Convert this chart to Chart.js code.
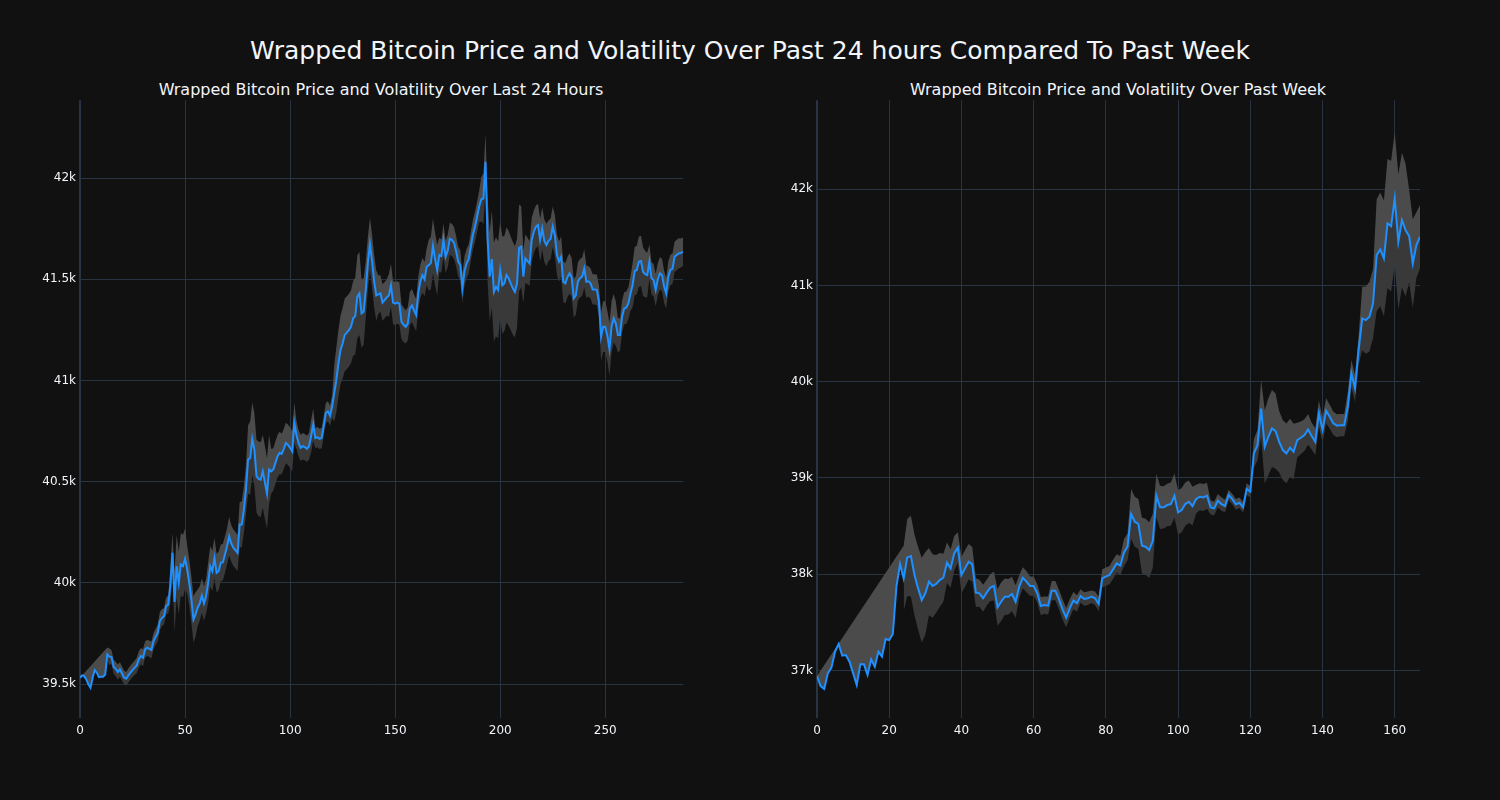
<!DOCTYPE html>
<html><head><meta charset="utf-8">
<script src="https://cdn.jsdelivr.net/npm/chart.js@4.4.0/dist/chart.umd.min.js"></script>
<style>
html,body{margin:0;padding:0;background:#111111;}
body{width:1500px;height:800px;position:relative;overflow:hidden;font-family:"DejaVu Sans",sans-serif;color:#f2f5fa;}
.t{position:absolute;white-space:nowrap;transform:translate(-50%,-50%);line-height:1;}
canvas{position:absolute;}
</style></head><body>
<div class="t" style="left:750px;top:50px;font-size:25px;">Wrapped Bitcoin Price and Volatility Over Past 24 hours Compared To Past Week</div>
<div class="t" style="left:381px;top:90px;font-size:16px;">Wrapped Bitcoin Price and Volatility Over Last 24 Hours</div>
<div class="t" style="left:1118px;top:90px;font-size:16px;">Wrapped Bitcoin Price and Volatility Over Past Week</div>
<canvas id="c1" width="680" height="666" style="left:20px;top:89px;"></canvas>
<canvas id="c2" width="680" height="666" style="left:757px;top:89px;"></canvas>
<script>
// ---- Last 24 hours (5-minute steps) ----
const dayPrice = [
39531,39542,39539,39523,39498,39481,39531,39569,39556,39534,
39536,39536,39547,39646,39635,39633,39584,39575,39559,39572,
39552,39531,39526,39542,39556,39569,39580,39592,39621,39638,
39630,39671,39679,39674,39668,39712,39733,39753,39811,39827,
39835,39885,39893,39984,40148,39905,40082,40000,40091,40082,
40119,40066,40000,39918,39819,39844,39877,39898,39937,39898,
39934,40000,40082,40058,40123,40049,40058,40099,40102,40140,
40181,40230,40194,40173,40161,40148,40288,40288,40362,40461,
40609,40617,40711,40658,40527,40514,40510,40551,40497,40441,
40560,40551,40560,40593,40625,40642,40637,40662,40691,40682,
40667,40650,40790,40732,40691,40667,40675,40671,40662,40675,
40724,40782,40715,40720,40711,40715,40774,40839,40847,40826,
40871,40937,41002,41085,41151,41183,41225,41236,41249,41266,
41307,41318,41414,41430,41332,41340,41447,41579,41674,41590,
41490,41420,41425,41430,41385,41397,41410,41420,41470,41385,
41380,41385,41380,41290,41275,41265,41280,41356,41370,41345,
41323,41430,41490,41520,41500,41562,41570,41580,41664,41600,
41545,41620,41615,41694,41611,41640,41700,41695,41680,41640,
41587,41570,41455,41540,41578,41600,41661,41720,41760,41809,
41860,41895,41899,42081,41700,41513,41600,41438,41463,41447,
41545,41470,41480,41521,41505,41480,41455,41438,41480,41655,
41661,41513,41603,41590,41578,41694,41735,41760,41768,41694,
41751,41690,41669,41690,41700,41760,41718,41620,41588,41611,
41488,41480,41510,41529,41510,41406,41420,41490,41505,41513,
41554,41488,41490,41480,41450,41450,41447,41389,41216,41266,
41266,41220,41154,41266,41307,41282,41225,41225,41315,41356,
41360,41381,41430,41470,41540,41546,41587,41590,41537,41525,
41521,41587,41505,41496,41447,41500,41529,41521,41464,41430,
41513,41546,41552,41611,41620,41628,41630,41636
];
// volatility half-width around the price (null = not yet defined)
const daySpread = [
0,
null,null,null,null,null,null,null,null,null,null,null,null,
35,40,35,35,35,38,35,35,
35,33,35,35,35,35,38,
40,40,42,40,40,40,42,40,40,42,45,42,40,42,45,
90,100,150,155,155,155,155,150,
120,115,115,115,110,
90,85,85,85,85,
100,100,100,100,95,95,
90,90,90,90,95,90,90,90,90,
110,115,115,120,
170,180,180,180,180,185,185,180,180,175,170,
110,105,105,105,105,100,100,100,100,
100,100,100,
70,65,65,65,65,65,65,
80,80,
50,50,50,50,50,50,50,50,55,
140,160,165,170,175,
180,180,180,180,185,190,
205,205,
170,165,
140,130,130,
130,130,125,
95,90,90,90,90,
105,107,107,107,105,105,
85,85,82,82,82,82,80,80,82,82,85,85,90,
125,130,135,130,125,
85,82,82,80,80,80,80,78,
75,74,74,74,74,72,72,72,74,74,76,78,
110,125,140,
210,220,
240,245,245,240,240,240,235,235,235,230,230,225,220,215,200,
130,120,115,110,110,
105,105,105,105,105,105,105,100,100,100,100,
100,100,100,100,100,100,100,95,95,95,95,95,95,95,
80,75,75,75,75,75,80,
120,125,125,125,130,125,120,110,
85,80,80,80,80,80,85,
110,120,120,125,125,120,115,110,
85,80,80,80,80,80,80,80,
75,75,75,75,75,75,75,72,70
];
const dayYTicks = [39500, 40000, 40500, 41000, 41500, 42000];
const dayXTicks = [0, 50, 100, 150, 200, 250];

// ---- Past week (hourly steps) ----
const weekPrice = [
36943,36839,36808,36971,37030,37196,37276,37154,37161,37092,
36971,36850,37064,37064,36954,37116,37040,37196,37144,37328,
37317,37379,37871,38106,37957,38175,38189,37992,37853,37732,
37802,37923,37878,37899,37940,37964,38120,38061,38217,38276,
37992,38061,38130,38103,37809,37802,37750,37809,37861,37878,
37656,37715,37767,37767,37795,37715,37871,37964,37923,37878,
37878,37802,37670,37680,37674,37829,37829,37739,37636,37549,
37646,37726,37698,37774,37743,37750,37767,37750,37691,37957,
37975,37992,38051,38113,38089,38224,38286,38625,38546,38522,
38297,38286,38251,38348,38816,38695,38695,38719,38729,38816,
38643,38667,38729,38753,38708,38781,38805,38798,38816,38695,
38684,38764,38729,38708,38823,38781,38726,38743,38695,38885,
38857,39255,39342,39722,39324,39428,39515,39487,39376,39290,
39255,39314,39273,39394,39418,39446,39504,39435,39376,39671,
39498,39698,39636,39567,39543,39549,39549,39740,40086,39930,
40328,40657,40640,40675,40813,41315,41374,41281,41644,41616,
41903,41453,41678,41574,41512,41228,41419,41505
];
const weekSpread = [
0,
null,null,null,null,null,null,null,null,null,null,null,null,
null,null,null,null,null,null,null,null,null,null,null,
340,400,420,420,430,440,430,350,330,300,
280,250,210,200,180,160,190,190,185,180,
150,140,140,135,140,150,190,200,190,185,
180,170,120,110,110,100,100,95,95,90,
95,100,100,100,105,100,95,90,85,70,
70,70,65,70,75,95,95,95,100,95,
100,140,140,260,260,260,290,290,290,280,
225,225,220,220,225,230,230,230,225,220,
200,150,140,140,135,75,70,70,70,65,
55,55,55,55,55,60,60,150,160,300,
380,400,400,390,320,310,310,300,290,180,
170,165,160,140,140,135,130,130,125,120,
120,115,115,150,140,140,150,330,350,360,
360,580,590,600,670,680,690,700,700,690,
480,460,340,330
];
const weekYTicks = [37000, 38000, 39000, 40000, 41000, 42000];
const weekXTicks = [0, 20, 40, 60, 80, 100, 120, 140, 160];

const GRID = '#283442';
const TXT = '#f2f5fa';
const FONT = '"DejaVu Sans", sans-serif';

function kLabel(v) { return (v / 1000) + 'k'; }

function makeChart(id, prices, spreads, xTicks, yTicks, yMin, yMax) {
  const pts = prices.map((p, i) => ({x: i, y: p}));
  const upper = prices.map((p, i) => ({x: i, y: spreads[i] === null ? null : p + spreads[i]}));
  const lower = prices.map((p, i) => ({x: i, y: spreads[i] === null ? null : p - spreads[i]}));
  return new Chart(document.getElementById(id), {
    type: 'line',
    data: {datasets: [
      {data: pts, borderColor: '#1e90ff', borderWidth: 2, pointRadius: 0, fill: false, tension: 0},
      {data: upper, borderWidth: 0, borderColor: 'rgba(0,0,0,0)', pointRadius: 0, spanGaps: true,
       fill: {target: 0}, backgroundColor: '#4b4b4b'},
      {data: lower, borderWidth: 0, borderColor: 'rgba(0,0,0,0)', pointRadius: 0, spanGaps: false,
       fill: {target: 0}, backgroundColor: '#393939'}
    ]},
    options: {
      responsive: false, animation: false, devicePixelRatio: 1,
      layout: {padding: {top: 5, right: 17, left: 0, bottom: 0}},
      plugins: {legend: {display: false}, tooltip: {enabled: false}, title: {display: false}},
      scales: {
        x: {
          type: 'linear', min: 0, max: prices.length - 1,
          border: {display: false},
          grid: {color: GRID, drawTicks: false,
                 lineWidth: c => (c.tick && c.tick.value === 0) ? 2 : 1},
          ticks: {color: TXT, padding: 6, font: {family: FONT, size: 12}, maxRotation: 0,
                  autoSkip: false, callback: v => String(v)},
          afterBuildTicks: s => { s.ticks = xTicks.map(v => ({value: v})); },
          afterFit: s => { s.height = 37; }
        },
        y: {
          type: 'linear', min: yMin, max: yMax,
          border: {display: false},
          grid: {color: GRID, drawTicks: false},
          ticks: {color: TXT, padding: 4, font: {family: FONT, size: 12},
                  autoSkip: false, callback: v => kLabel(v)},
          afterBuildTicks: s => { s.ticks = yTicks.map(v => ({value: v})); },
          afterFit: s => { s.width = 60; }
        }
      }
    }
  });
}

makeChart('c1', dayPrice, daySpread, dayXTicks, dayYTicks, 39332, 42385);
makeChart('c2', weekPrice, weekSpread, weekXTicks, weekYTicks, 36507, 42924);
</script>
</body></html>
